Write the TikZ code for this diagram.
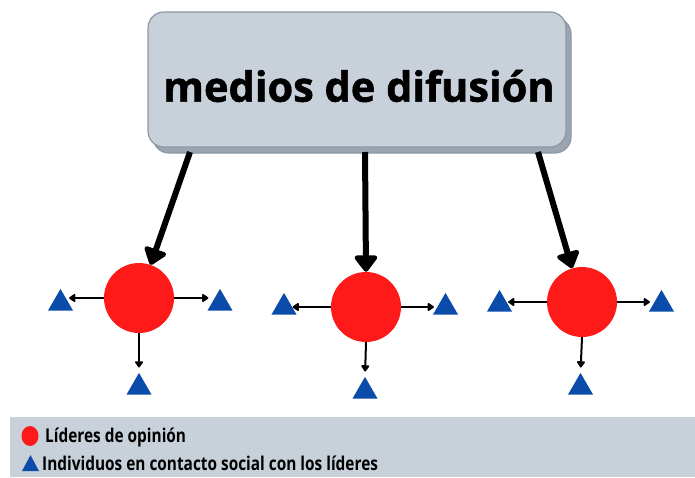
\documentclass[tikz,border=0pt]{standalone}
\usepackage{fontspec}
\setmainfont{Open Sans}
\newfontfamily\legendfont{Open Sans}[FakeStretch=0.81]
\newfontfamily\titlefont{Open Sans}[BoldFeatures={FakeBold=1.3}]
\usetikzlibrary{shapes.geometric,arrows.meta,shadows}
\definecolor{boxfill}{HTML}{C8D0DA}
\definecolor{boxborder}{HTML}{8C98A4}
\definecolor{boxshadow}{HTML}{9AA5B0}
\definecolor{leader}{HTML}{FF1A1A}
\definecolor{person}{HTML}{0B4BAA}
\tikzset{
  mediabox/.style={draw=boxborder, line width=1.2pt, fill=boxfill, rounded corners=16pt,
    minimum width=418pt, minimum height=135pt, inner sep=0pt,
    copy shadow={shadow xshift=5pt, shadow yshift=-6pt, fill=boxshadow, draw=boxborder}},
  leaderdot/.style={circle, fill=leader, minimum size=70pt, inner sep=0pt},
  persontri/.style={regular polygon, regular polygon sides=3, fill=person, minimum size=29pt, inner sep=0pt},
  bigarrow/.style={line width=6pt, -{Triangle[length=18pt,width=26pt,round]}, line join=round},
  smallarrow/.style={line width=2pt, -{Triangle[length=7pt,width=9pt,round]}},
  legendtext/.style={anchor=base west, inner sep=0pt, font=\legendfont\bfseries\fontsize{19}{22}\selectfont},
}
\begin{document}
\begin{tikzpicture}[x=1pt,y=-1pt]
\useasboundingbox (0,0) rectangle (695,477);
% legend band
\fill[boxfill] (10,417) rectangle (695,477);
% top box
\node[mediabox] (box) at (357,79.5) {};
\node[font=\titlefont\bfseries\fontsize{41.5}{48}\selectfont, inner sep=0pt] (title) at (359,86) {medios de difusión};
\coordinate (s1) at (190,152);
\coordinate (s2) at (365,152);
\coordinate (s3) at (538,152);
% leaders
\node[leaderdot] (L) at (139,298) {};
\node[leaderdot] (M) at (366,307) {};
\node[leaderdot] (R) at (582,302) {};
% individuals
\node[persontri] (LL) at (60.5,303.4) {};
\node[persontri] (LR) at (220,303.4) {};
\node[persontri] (LB) at (139,387.4) {};
\node[persontri] (ML) at (284,307.4) {};
\node[persontri] (MR) at (445.5,307.4) {};
\node[persontri] (MB) at (365,391.4) {};
\node[persontri] (RL) at (499.5,304.4) {};
\node[persontri] (RR) at (661.5,304.4) {};
\node[persontri] (RB) at (580.5,387.4) {};
% big arrows
\draw[bigarrow] (s1) -- (L);
\draw[bigarrow] (s2) -- (M.north);
\draw[bigarrow] (s3) -- (R);
% small arrows
\foreach \c/\l/\r/\b in {L/LL/LR/LB, M/ML/MR/MB, R/RL/RR/RB}{
  \draw[smallarrow] (\c.west) -- (\c.west -| \l.east);
  \draw[smallarrow, shorten >=3pt] (\c.east) -- (\c.east -| \r.west);
  \draw[smallarrow, shorten >=5pt] (\c.south) -- (\b.north);
}
% legend
\node[ellipse, fill=leader, minimum width=17pt, minimum height=20pt, inner sep=0pt] (kL) at (30,436) {};
\node[legendtext] (tL) at (45,442) {Líderes de opinión};
\node[isosceles triangle, isosceles triangle apex angle=60, shape border rotate=90, fill=person, minimum width=17pt, minimum height=16pt, inner sep=0pt, isosceles triangle stretches] (kP) at (30.5,466) {};
\node[legendtext] (tP) at (42,470) {Individuos en contacto social con los líderes};
\end{tikzpicture}
\end{document}
